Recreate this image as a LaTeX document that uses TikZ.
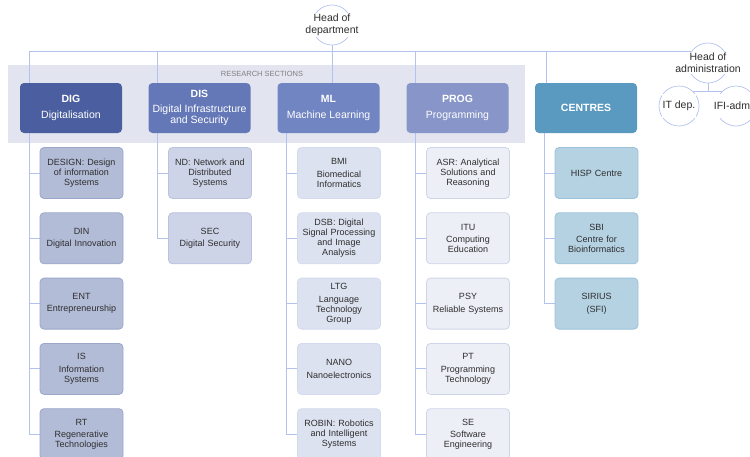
\documentclass[tikz,border=0pt]{standalone}
\usepackage{fontspec}
\setmainfont{Liberation Sans}
\usepackage{xcolor}
\usepackage{tikz}
\usetikzlibrary{positioning,backgrounds}
\definecolor{linkc}{HTML}{B4C2F0}
\definecolor{bandc}{HTML}{E2E5F0}
\definecolor{textc}{HTML}{2E2E2E}
\definecolor{digc}{HTML}{4B5FA0}
\definecolor{disc}{HTML}{6478B8}
\definecolor{mlc}{HTML}{7185C2}
\definecolor{progc}{HTML}{8795C8}
\definecolor{cenc}{HTML}{5A9AC0}
\tikzstyle{link} = [draw=linkc, line width=0.9pt]
\tikzstyle{section} = [rounded corners=4pt, minimum width=102pt, minimum height=50pt, inner sep=1pt, text=white, align=center, font=\fontsize{10.5}{11.5}\selectfont]
\tikzstyle{unit} = [rounded corners=4pt, line width=0.8pt, minimum width=83pt, minimum height=51pt, inner sep=1pt, text width=81pt, align=center, text=textc, font=\fontsize{9}{9.8}\selectfont]
\tikzstyle{headc} = [circle, draw=linkc, line width=0.7pt, fill=white, minimum size=40pt, inner sep=0pt]
\tikzstyle{headt} = [fill=white, inner sep=1pt, align=center, text=textc, font=\fontsize{10.5}{12}\selectfont]

\begin{document}
\begin{tikzpicture}[x=1pt,y=-1pt,
    digunit/.style={unit, draw=digc!55, fill=digc!42},
    disunit/.style={unit, draw=disc!45, fill=disc!32},
    mlunit/.style={unit, draw=mlc!30, fill=mlc!24},
    progunit/.style={unit, draw=progc!40, fill=progc!15},
    cenunit/.style={unit, draw=cenc!60, fill=cenc!45}]
\useasboundingbox (0,0) rectangle (750,456);
\clip (0,0) rectangle (750,456);

% Heads:
\node[headc] (hod) at (332,25) {};
\node[headt] (hodt) at (hod) {Head of\\department};
\node[headc] (hoa) at (708,63) {};
\node[headt] (hoat) at (hoa) {Head of\\administration};
\node[headc] (itdep) at (679,106) {};
\node[headt, minimum height=24pt] (itdept) at (itdep) {IT dep.};
\node[headc] (ifiadm) at (736,106) {};
\node[headt, minimum height=24pt] (ifiadmt) at (ifiadm) {IFI-admin};

% Sections:
\node[section, fill=digc] (dig) at (71,108) {\textbf{DIG}\\[4pt]Digitalisation};
\node[section, fill=disc] (dis) at (199.5,108) {\textbf{DIS}\\[3pt]Digital Infrastructure\\and Security};
\node[section, fill=mlc] (ml) at (328.5,108) {\textbf{ML}\\[4pt]Machine Learning};
\node[section, fill=progc] (prog) at (457.5,108) {\textbf{PROG}\\[4pt]Programming};
\node[section, fill=cenc] (centres) at (586,108) {\textbf{CENTRES}};

% Units below each section:
\node[digunit] (design) at (81.5,173) {DESIGN: Design\\of information\\Systems};
\node[digunit, below=13.5pt of design] (din) {DIN\\[3pt]Digital Innovation};
\node[digunit, below=13.5pt of din] (ent) {ENT\\[2pt]Entrepreneurship};
\node[digunit, below=13.5pt of ent] (is) {IS\\[3pt]Information\\Systems};
\node[digunit, below=13.5pt of is] (rt) {RT\\[3pt]Regenerative\\Technologies};

\node[disunit] (nd) at (210,173) {ND: Network and\\Distributed\\Systems};
\node[disunit, below=13.5pt of nd] (sec) {SEC\\[3pt]Digital Security};

\node[mlunit] (bmi) at (339,173) {BMI\\[3pt]Biomedical\\Informatics};
\node[mlunit, below=13.5pt of bmi] (dsb) {DSB: Digital\\Signal Processing\\and Image\\Analysis};
\node[mlunit, below=13.5pt of dsb] (ltg) {LTG\\[3pt]Language\\Technology\\Group};
\node[mlunit, below=13.5pt of ltg] (nano) {NANO\\[3pt]Nanoelectronics};
\node[mlunit, below=13.5pt of nano] (robin) {ROBIN: Robotics\\and Intelligent\\Systems};

\node[progunit] (asr) at (468,173) {ASR: Analytical\\Solutions and\\Reasoning};
\node[progunit, below=13.5pt of asr] (itu) {ITU\\[3pt]Computing\\Education};
\node[progunit, below=13.5pt of itu] (psy) {PSY\\[3pt]Reliable Systems};
\node[progunit, below=13.5pt of psy] (pt) {PT\\[3pt]Programming\\Technology};
\node[progunit, below=13.5pt of pt] (se) {SE\\[3pt]Software\\Engineering};

\node[cenunit] (hisp) at (596.5,173) {HISP Centre};
\node[cenunit, below=13.5pt of hisp] (sbi) {SBI\\[3pt]Centre for\\Bioinformatics};
\node[cenunit, below=13.5pt of sbi] (sirius) {SIRIUS\\[3pt](SFI)};

\begin{pgfonlayer}{background}
  % Research band:
  \fill[bandc] (8,65) rectangle (525,143);
  \node[text=gray, font=\fontsize{7.5}{8}\selectfont] (band) at (262,74) {RESEARCH SECTIONS};

  % Bus from the heads:
  \draw[link] (hod.south) -- (hod.south |- ml.north);
  \draw[link] (dig.north west) ++(10,0) |- (hoa.146);
  \draw[link] (dis.north west) ++(9,0) |- (hoa.146);
  \draw[link] (prog.north west) ++(9,0) |- (hoa.146);
  \draw[link] (centres.north west) ++(12,0) |- (hoa.146);
  \draw[link] (hoa.south) -- ++(0,8) coordinate (adm);
  \draw[link] (itdep) |- (adm) -| (ifiadm);

  % Section to unit links:
  \foreach \u in {design,din,ent,is,rt}
    \draw[link] (dig.south west) ++(10,0) |- (\u.west);
  \foreach \u in {nd,sec}
    \draw[link] (dis.south west) ++(9,0) |- (\u.west);
  \foreach \u in {bmi,dsb,ltg,nano,robin}
    \draw[link] (ml.south west) ++(9,0) |- (\u.west);
  \foreach \u in {asr,itu,psy,pt,se}
    \draw[link] (prog.south west) ++(9,0) |- (\u.west);
  \foreach \u in {hisp,sbi,sirius}
    \draw[link] (centres.south west) ++(10,0) |- (\u.west);
\end{pgfonlayer}
\end{tikzpicture}
\end{document}
